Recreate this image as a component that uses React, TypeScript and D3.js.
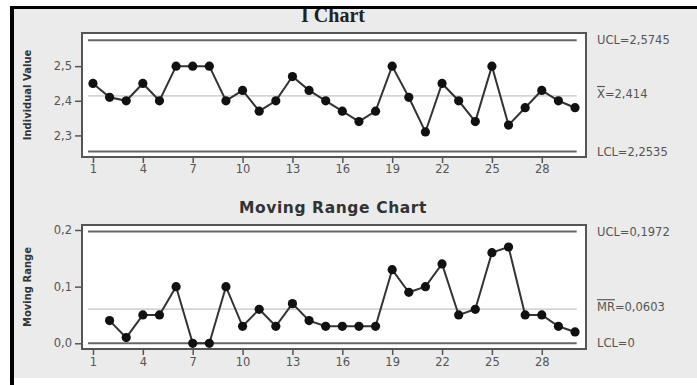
import React, { useEffect, useRef } from 'react';
import * as d3 from 'd3';

// observations 1..30
const obsIndex = d3.range(1, 31);
const individualValues = [
  2.45, 2.41, 2.40, 2.45, 2.40, 2.50, 2.50, 2.50, 2.40, 2.43,
  2.37, 2.40, 2.47, 2.43, 2.40, 2.37, 2.34, 2.37, 2.50, 2.41,
  2.31, 2.45, 2.40, 2.34, 2.50, 2.33, 2.38, 2.43, 2.40, 2.38,
];
// moving range starts at observation 2
const movingRanges = [
  0.04, 0.01, 0.05, 0.05, 0.10, 0.00, 0.00, 0.10, 0.03,
  0.06, 0.03, 0.07, 0.04, 0.03, 0.03, 0.03, 0.03, 0.13, 0.09,
  0.10, 0.14, 0.05, 0.06, 0.16, 0.17, 0.05, 0.05, 0.03, 0.02,
];
const xTicks = [1, 4, 7, 10, 13, 16, 19, 22, 25, 28];
const iTicks = [2.3, 2.4, 2.5];
const mrTicks = [0.0, 0.1, 0.2];
const iLimits = { ucl: 2.5745, center: 2.414, lcl: 2.2535 };
const mrLimits = { ucl: 0.1972, center: 0.0603, lcl: 0 };
const iLabels = ['UCL=2,5745', '=2,414', 'LCL=2,2535'];
const mrLabels = ['UCL=0,1972', '=0,0603', 'LCL=0'];

const locale = d3.formatLocale({ decimal: ',', thousands: '.', grouping: [3], currency: ['', ''] });
const fmt1 = locale.format('.1f');

const App = () => {
  const chartRef = useRef(null);

  useEffect(() => {
    const width = 697;
    const height = 385;
    const plotLeft = 82;
    const plotRight = 586;

    d3.select(chartRef.current).selectAll('*').remove();

    const svg = d3.select(chartRef.current)
      .append('svg')
      .attr('width', width)
      .attr('height', height)
      .style('position', 'absolute')
      .style('left', 0)
      .style('top', 0)
      .style('background', '#fff');

    // grey panel
    svg.append('rect')
      .attr('x', 12).attr('y', 7)
      .attr('width', width - 12).attr('height', 371)
      .attr('fill', '#ebebeb');

    const x = d3.scaleLinear().domain([0.34, 30.66]).range([plotLeft, plotRight]);

    const drawPanel = (opts) => {
      const { y, top, bottom, data, startIdx, ticks, limits, labels, barSymbol, yTitle, tickPad } = opts;
      const g = svg.append('g');

      g.append('rect')
        .attr('x', plotLeft).attr('y', top)
        .attr('width', plotRight - plotLeft).attr('height', bottom - top)
        .attr('fill', '#fff')
        .attr('stroke', '#555')
        .attr('stroke-width', 2);

      // control limits
      const lx0 = x(0.7);
      const lx1 = x(30.1);
      [limits.ucl, limits.lcl].forEach(v => {
        g.append('line')
          .attr('x1', lx0).attr('x2', lx1)
          .attr('y1', y(v)).attr('y2', y(v))
          .attr('stroke', '#666').attr('stroke-width', 2);
      });
      g.append('line')
        .attr('x1', lx0).attr('x2', lx1)
        .attr('y1', y(limits.center)).attr('y2', y(limits.center))
        .attr('stroke', '#b5b5b5').attr('stroke-width', 1);

      const pts = data.map((v, i) => ({ i: obsIndex[i + startIdx], v }));

      g.append('path')
        .datum(pts)
        .attr('fill', 'none')
        .attr('stroke', '#333')
        .attr('stroke-width', 2)
        .attr('d', d3.line().x(d => x(d.i)).y(d => y(d.v)));

      g.selectAll('circle')
        .data(pts)
        .join('circle')
          .attr('cx', d => x(d.i))
          .attr('cy', d => y(d.v))
          .attr('r', 4.6)
          .attr('fill', '#111');

      // axes
      const yAxis = g.append('g')
        .attr('transform', `translate(${plotLeft - 1}, 0)`)
        .call(d3.axisLeft(y).tickValues(ticks).tickFormat(fmt1).tickSize(6).tickPadding(3));
      const xAxis = g.append('g')
        .attr('transform', `translate(0, ${bottom + 1})`)
        .call(d3.axisBottom(x).tickValues(xTicks).tickSize(5).tickPadding(tickPad));
      [yAxis, xAxis].forEach(a => {
        a.select('.domain').remove();
        a.selectAll('line').attr('stroke', '#555').attr('stroke-width', 1.5);
        a.selectAll('text')
          .attr('fill', '#555')
          .style('font-family', 'DejaVu Sans')
          .style('font-size', '11.5px');
      });

      // y title
      g.append('text')
        .attr('transform', `translate(31, ${(top + bottom) / 2}) rotate(-90)`)
        .attr('text-anchor', 'middle')
        .attr('fill', '#333')
        .style('font-family', 'DejaVu Sans')
        .style('font-size', '10px')
        .style('font-weight', 'bold')
        .text(yTitle);

      // limit labels
      const vals = [limits.ucl, limits.center, limits.lcl];
      labels.forEach((lab, k) => {
        const t = g.append('text')
          .attr('x', 597)
          .attr('y', y(vals[k]) + (k === 1 ? -2 : 0))
          .attr('dy', '0.35em')
          .attr('fill', '#555')
          .style('font-family', 'DejaVu Sans')
          .style('font-size', '11.5px');
        if (k === 1) {
          t.append('tspan').style('text-decoration', 'overline').text(barSymbol);
          t.append('tspan').text(lab);
        } else {
          t.text(lab);
        }
      });
    };

    drawPanel({
      y: d3.scaleLinear().domain([2.2377, 2.5957]).range([157, 33]),
      top: 33, bottom: 157,
      data: individualValues, startIdx: 0,
      ticks: iTicks, limits: iLimits, labels: iLabels,
      barSymbol: 'X', yTitle: 'Individual Value', tickPad: 2,
    });

    drawPanel({
      y: d3.scaleLinear().domain([-0.0101, 0.2088]).range([349, 225]),
      top: 225, bottom: 349,
      data: movingRanges, startIdx: 1,
      ticks: mrTicks, limits: mrLimits, labels: mrLabels,
      barSymbol: 'MR', yTitle: 'Moving Range', tickPad: 3,
    });

    // titles
    svg.append('text')
      .attr('x', 333).attr('y', 22)
      .attr('text-anchor', 'middle')
      .attr('fill', '#222')
      .style('font-family', 'Liberation Serif')
      .style('font-size', '20px')
      .style('font-weight', 'bold')
      .text('I Chart');

    svg.append('text')
      .attr('x', 333).attr('y', 213)
      .attr('text-anchor', 'middle')
      .attr('fill', '#333')
      .style('font-family', 'DejaVu Sans')
      .style('font-size', '15.5px')
      .style('font-weight', 'bold')
      .style('letter-spacing', '0.6px')
      .text('Moving Range Chart');

    // black frame on left and top
    svg.append('rect').attr('x', 10).attr('y', 6).attr('width', width - 10).attr('height', 3).attr('fill', '#000');
    svg.append('rect').attr('x', 10).attr('y', 6).attr('width', 4).attr('height', height - 6).attr('fill', '#000');
  }, []);

  return <div ref={chartRef}></div>;
};

export default App;
